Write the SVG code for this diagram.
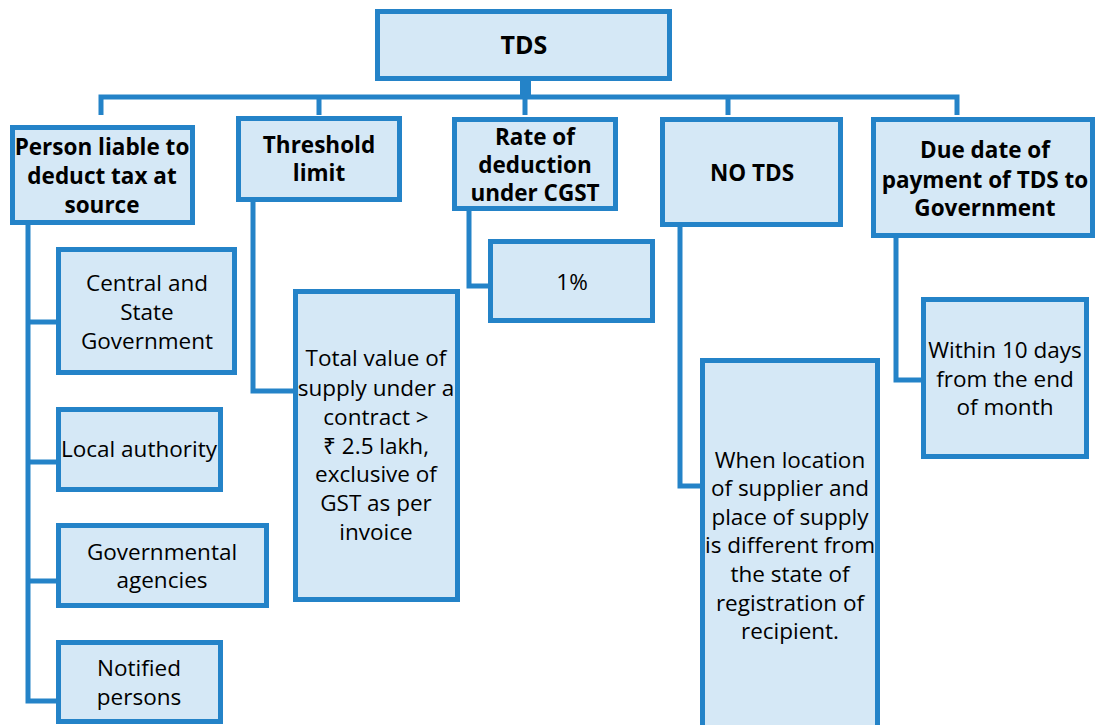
<svg xmlns="http://www.w3.org/2000/svg" width="1097" height="725" viewBox="0 0 1097 725">
<style>
.box{fill:#D5E8F6;stroke:#2483C8;stroke-width:5}
.con{fill:none;stroke:#2483C8;stroke-width:5;stroke-linejoin:miter}
.h{font-family:"Open Sans","Liberation Sans",sans-serif;font-weight:bold;font-size:22.5px;fill:#000;text-anchor:middle}
.t{font-family:"Open Sans","Liberation Sans",sans-serif;font-size:22.5px;fill:#000;text-anchor:middle}
</style>
<rect width="1097" height="725" fill="#fff"/>
<g id="connectors">
<rect x="520" y="78" width="11" height="20" fill="#2483C8"/>
<path class="con" d="M101,115 V97 H957 V115 M319,97 V115 M525,97 V115 M728,97 V115"/>
<path class="con" d="M28,224 V701 H58 M28,322 H58 M28,462 H58 M28,581 H58"/>
<path class="con" d="M253,200 V391 H294"/>
<path class="con" d="M469,210 V286 H489"/>
<path class="con" d="M680,226 V486 H701"/>
<path class="con" d="M896,237 V380 H922"/>
</g>
<g id="tds"><rect class="box" x="377.5" y="11.5" width="292" height="67"/><text class="h" x="524" y="54" style="font-size:25px">TDS</text></g>
<g id="person"><rect class="box" x="12.5" y="127.5" width="180" height="95"/>
<text class="h"><tspan x="102" y="155">Person liable to</tspan><tspan x="102" y="184">deduct tax at</tspan><tspan x="102" y="213">source</tspan></text></g>
<g id="threshold"><rect class="box" x="238.5" y="118.5" width="161" height="81"/>
<text class="h"><tspan x="319" y="153">Threshold</tspan><tspan x="319" y="181">limit</tspan></text></g>
<g id="rate"><rect class="box" x="454.5" y="119.5" width="161" height="89"/>
<text class="h"><tspan x="535" y="145">Rate of</tspan><tspan x="535" y="173">deduction</tspan><tspan x="535" y="201">under CGST</tspan></text></g>
<g id="notds"><rect class="box" x="662.5" y="119.5" width="178" height="105"/>
<text class="h" x="752" y="181">NO TDS</text></g>
<g id="duedate"><rect class="box" x="873.5" y="119.5" width="219" height="116"/>
<text class="h"><tspan x="985" y="158">Due date of</tspan><tspan x="985" y="188">payment of TDS to</tspan><tspan x="985" y="216">Government</tspan></text></g>
<g id="central"><rect class="box" x="58.5" y="249.5" width="176" height="123"/>
<text class="t"><tspan x="147" y="291">Central and</tspan><tspan x="147" y="320">State</tspan><tspan x="147" y="349">Government</tspan></text></g>
<g id="local"><rect class="box" x="58.5" y="409.5" width="162" height="80"/>
<text class="t" x="139" y="457">Local authority</text></g>
<g id="governmental"><rect class="box" x="58.5" y="525.5" width="208" height="80"/>
<text class="t"><tspan x="162" y="560">Governmental</tspan><tspan x="162" y="588">agencies</tspan></text></g>
<g id="notified"><rect class="box" x="58.5" y="642.5" width="162" height="79"/>
<text class="t"><tspan x="139" y="676">Notified</tspan><tspan x="139" y="705">persons</tspan></text></g>
<g id="total"><rect class="box" x="295.5" y="291.5" width="162" height="308"/>
<text class="t"><tspan x="376" y="366">Total value of</tspan><tspan x="376" y="396">supply under a</tspan><tspan x="376" y="425">contract &gt;</tspan><tspan x="376" y="454">₹ 2.5 lakh,</tspan><tspan x="376" y="482">exclusive of</tspan><tspan x="376" y="511">GST as per</tspan><tspan x="376" y="540">invoice</tspan></text></g>
<g id="onepct"><rect class="box" x="490.5" y="241.5" width="162" height="79"/>
<text class="t" x="572" y="290">1%</text></g>
<g id="when"><rect class="box" x="702.5" y="360.5" width="175" height="380"/>
<text class="t"><tspan x="790" y="468">When location</tspan><tspan x="790" y="496">of supplier and</tspan><tspan x="790" y="525">place of supply</tspan><tspan x="790" y="553">is different from</tspan><tspan x="790" y="582">the state of</tspan><tspan x="790" y="611">registration of</tspan><tspan x="790" y="639">recipient.</tspan></text></g>
<g id="within"><rect class="box" x="923.5" y="299.5" width="163" height="157"/>
<text class="t"><tspan x="1005" y="358">Within 10 days</tspan><tspan x="1005" y="387">from the end</tspan><tspan x="1005" y="415">of month</tspan></text></g>
</svg>
